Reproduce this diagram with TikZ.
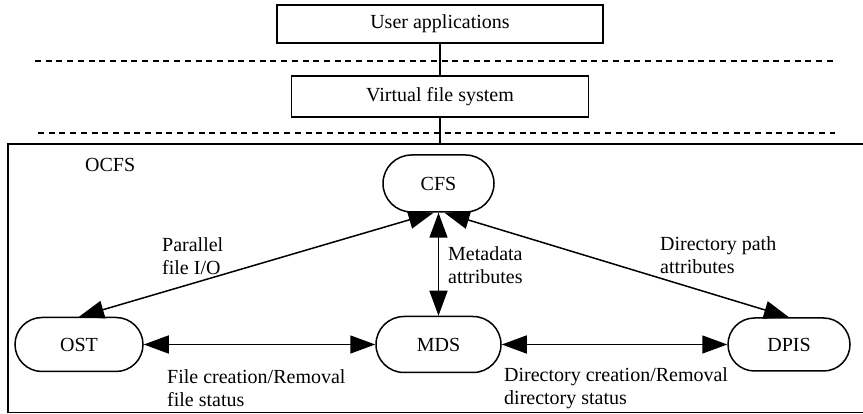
\documentclass[tikz,border=0pt]{standalone}
\usepackage{fontspec}
\setmainfont{Liberation Serif}
\usetikzlibrary{arrows.meta,shapes.misc,calc}
\tikzset{
  txt/.style={font=\fontsize{20}{23}\selectfont},
  sqbox/.style={draw, line width=1.7pt, inner sep=0pt, txt},
  pill/.style={draw, rounded rectangle, line width=1.5pt, inner sep=0pt, txt},
  lbl/.style={inner sep=0pt, align=left, anchor=west, txt},
  conn/.style={line width=1.5pt},
  biarrow/.style={conn, {Triangle[length=25pt,width=18pt]}-{Triangle[length=25pt,width=18pt]}},
  sep/.style={line width=1.6pt, dash pattern=on 6pt off 4.7pt}
}
\begin{document}
\begin{tikzpicture}[x=1pt, y=-1pt]
\useasboundingbox (0,0) rectangle (863,414);
% top layers
\node[sqbox, minimum width=326pt, minimum height=38pt] (ua) at (440,24) {User applications};
\node[sqbox, minimum width=297pt, minimum height=41pt] (vfs) at (440,96.5) {Virtual file system};
\draw[sep] (35,61) -- (833,61);
\draw[sep] (38,133) -- (835,133);
% OCFS box (right edge beyond the picture)
\node[draw, line width=1.7pt, inner sep=0pt, minimum width=858pt, minimum height=268.6pt] (ocfsbox) at (437,278.3) {};
\draw[conn] (ua.south) -- (vfs.north);
\draw[conn] (vfs.south) -- (vfs.south |- ocfsbox.north);
\node[lbl] (ocfs) at (85,165) {OCFS};
% pills
\node[pill, minimum width=111pt, minimum height=57pt] (cfs) at (438.5,183.5) {CFS};
\node[pill, minimum width=128pt, minimum height=54pt] (ost) at (79,344.5) {OST};
\node[pill, minimum width=125pt, minimum height=56pt] (mds) at (438.5,344.5) {MDS};
\node[pill, minimum width=122pt, minimum height=53pt] (dpis) at (789,344.5) {DPIS};
% connectors
\draw[biarrow] (ost.north) -- ($(cfs.south)+(-5,0)$);
\draw[biarrow] (mds.north) -- (cfs.south);
\draw[biarrow] (dpis.north) -- ($(cfs.south)+(6,0)$);
\draw[biarrow] (ost.east) -- (mds.west);
\draw[biarrow] (mds.east) -- (dpis.west);
% labels
\node[lbl] (l1) at (162,256) {Parallel\\file I/O};
\node[lbl] (l2) at (448,265) {Metadata\\attributes};
\node[lbl] (l3) at (660,255) {Directory path\\attributes};
\node[lbl] (l4) at (167,388.5) {File creation/Removal\\file status};
\node[lbl] (l5) at (504,388) {Directory creation/Removal\\directory status};
\end{tikzpicture}
\end{document}
